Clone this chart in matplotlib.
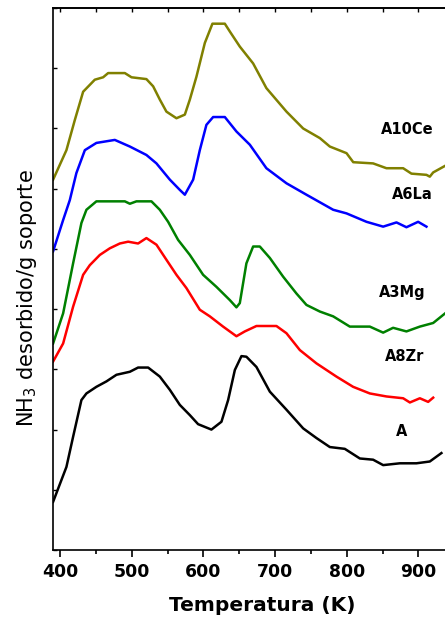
import matplotlib
matplotlib.use("Agg")
import matplotlib.pyplot as plt
from matplotlib.ticker import MultipleLocator, NullFormatter

# Temperature (K) and stacked signal (arbitrary units)
A_T = [390.2, 408.8, 418.1, 429.7, 436.7, 450.6, 464.6, 478.6, 497.3, 508.8, 522.8, 539.1, 553.1, 567.0,
       581.0, 592.5, 611.1, 625.1, 634.4, 643.8, 653.0, 659.9, 673.9, 692.6, 715.8, 739.1, 757.6, 776.3,
       797.2, 818.2, 836.7, 850.7, 874.0, 897.1, 915.8, 932.0]
A_y = [0.80, 1.38, 1.88, 2.49, 2.60, 2.71, 2.80, 2.91, 2.96, 3.03, 3.03, 2.88, 2.66, 2.41,
       2.24, 2.09, 2.00, 2.13, 2.49, 2.99, 3.22, 3.21, 3.04, 2.63, 2.33, 2.02, 1.86, 1.71,
       1.68, 1.52, 1.50, 1.41, 1.44, 1.44, 1.47, 1.61]

Zr_T = [390.2, 404.2, 418.1, 432.1, 441.4, 455.4, 469.3, 483.3, 494.9, 508.8, 520.4, 534.4, 548.3, 562.3,
        576.2, 594.9, 608.9, 627.4, 646.0, 657.7, 673.9, 701.8, 715.8, 734.5, 757.6, 785.5, 808.8, 832.1,
        855.3, 878.6, 888.0, 901.9, 913.5, 920.5]
Zr_y = [3.13, 3.43, 4.04, 4.57, 4.73, 4.90, 5.01, 5.09, 5.12, 5.09, 5.18, 5.07, 4.82, 4.57,
        4.35, 3.99, 3.88, 3.71, 3.55, 3.63, 3.72, 3.72, 3.60, 3.32, 3.10, 2.88, 2.71, 2.60,
        2.55, 2.52, 2.45, 2.52, 2.46, 2.53]

Mg_T = [390.2, 404.2, 418.1, 429.7, 436.7, 450.6, 490.3, 497.3, 506.5, 527.4, 539.1, 550.7, 564.6, 581.0,
        599.5, 618.1, 636.8, 646.0, 650.7, 659.9, 669.3, 678.6, 692.6, 711.1, 729.7, 743.7, 762.4, 781.0,
        804.2, 832.1, 850.7, 864.6, 883.2, 901.9, 920.5, 937.2]
Mg_y = [3.43, 3.93, 4.76, 5.43, 5.65, 5.79, 5.79, 5.75, 5.79, 5.79, 5.65, 5.45, 5.15, 4.90,
        4.57, 4.37, 4.15, 4.03, 4.10, 4.76, 5.04, 5.04, 4.85, 4.54, 4.26, 4.07, 3.96, 3.88,
        3.71, 3.71, 3.61, 3.69, 3.63, 3.71, 3.77, 3.93]

La_T = [390.2, 404.2, 413.5, 422.7, 434.5, 450.6, 476.3, 497.3, 520.4, 534.4, 553.1, 567.0, 574.0, 585.6,
        594.9, 604.1, 613.5, 629.8, 646.0, 664.7, 687.8, 715.8, 743.7, 781.0, 799.6, 827.5, 850.7, 869.3,
        883.2, 899.5, 911.1]
La_y = [4.96, 5.48, 5.81, 6.26, 6.64, 6.76, 6.81, 6.70, 6.56, 6.42, 6.15, 5.98, 5.90, 6.15,
        6.64, 7.06, 7.19, 7.19, 6.95, 6.73, 6.34, 6.09, 5.90, 5.65, 5.59, 5.45, 5.37, 5.44,
        5.36, 5.45, 5.37]

Ce_T = [390.2, 408.8, 420.5, 432.1, 448.4, 460.0, 467.0, 490.3, 499.6, 520.4, 529.8, 539.1, 548.3, 562.3,
        574.0, 581.0, 590.2, 601.9, 612.5, 629.8, 636.8, 650.7, 669.3, 687.8, 715.8, 739.1, 762.4, 776.3,
        799.6, 809.0, 836.7, 855.3, 878.6, 890.2, 911.1, 915.8, 920.5, 937.2]
Ce_y = [6.15, 6.64, 7.14, 7.61, 7.81, 7.85, 7.92, 7.92, 7.85, 7.82, 7.70, 7.48, 7.28, 7.17,
        7.23, 7.48, 7.86, 8.42, 8.74, 8.74, 8.61, 8.36, 8.08, 7.67, 7.28, 7.00, 6.84, 6.70,
        6.59, 6.44, 6.42, 6.34, 6.34, 6.25, 6.23, 6.20, 6.27, 6.38]

labels = ["A10Ce", "A6La", "A3Mg", "A8Zr", "A"]
label_T = [885, 892, 877, 881, 877]
label_y = [6.98, 5.90, 4.27, 3.22, 1.96]

fig = plt.figure(figsize=(4.45, 6.18), dpi=100)
ax = fig.add_axes([0.119, 0.110, 0.881, 0.877])

lw = 1.8
ax.plot(Ce_T, Ce_y, color="#808000", lw=lw)
ax.plot(La_T, La_y, color="#0000ff", lw=lw)
ax.plot(Mg_T, Mg_y, color="#008000", lw=lw)
ax.plot(Zr_T, Zr_y, color="#ff0000", lw=lw)
ax.plot(A_T, A_y, color="black", lw=lw)

for lab, tx, ty in zip(labels, label_T, label_y):
    ax.text(tx, ty, lab, ha="center", va="center", fontsize=10.5, fontweight="bold")

ax.set_xlim(390, 937)
ax.set_ylim(0, 9)
ax.spines["right"].set_visible(False)
for s in ["left", "bottom", "top"]:
    ax.spines[s].set_linewidth(1.2)

ax.xaxis.set_major_locator(MultipleLocator(100))
ax.xaxis.set_minor_locator(MultipleLocator(50))
ax.tick_params(axis="x", which="major", direction="out", length=5, width=1.2,
               labelsize=12.4, pad=4)
ax.tick_params(axis="x", which="minor", direction="out", length=3, width=1.2)
for t in ax.get_xticklabels():
    t.set_fontweight("bold")

ax.yaxis.set_major_locator(MultipleLocator(1))
ax.yaxis.set_major_formatter(NullFormatter())
ax.tick_params(axis="y", which="major", direction="in", length=3, width=1.0)

sec = ax.secondary_xaxis("top")
sec.xaxis.set_major_locator(MultipleLocator(50))
sec.xaxis.set_major_formatter(NullFormatter())
sec.tick_params(direction="in", length=3, width=1.0)
sec.spines["top"].set_linewidth(1.2)

ax.set_xlabel("Temperatura (K)", fontsize=14.5, fontweight="bold")
ax.set_ylabel("NH$_3$ desorbido/g soporte", fontsize=15)
ax.xaxis.set_label_coords(0.533, -0.085)
ax.yaxis.set_label_coords(-0.036, 0.465)

fig.savefig("out.png", dpi=100)
